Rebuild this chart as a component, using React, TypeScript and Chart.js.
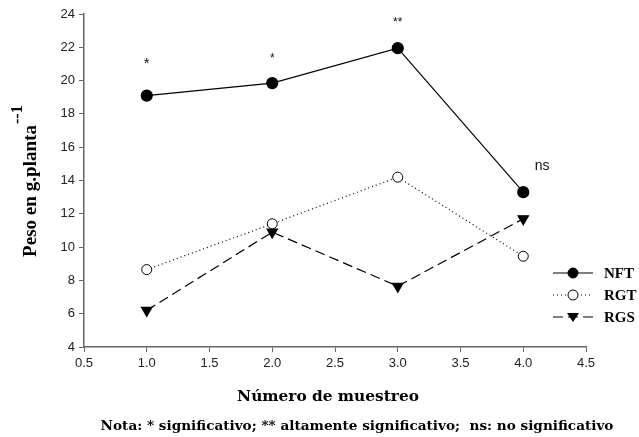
import React, { useEffect, useRef } from "react";
import { Chart, registerables } from "chart.js";

Chart.register(...registerables);

const samples = [1.0, 2.0, 3.0, 4.0];
const nft = [19.1, 19.85, 21.95, 13.3];
const rgt = [8.65, 11.4, 14.2, 9.45];
const rgs = [6.2, 10.9, 7.65, 11.7];

const sigLabels = ["*", "*", "**", "ns"];
const sigX = [1.0, 2.0, 3.0, 4.15];
const sigY = [21.0, 21.3, 23.45, 14.85];

const seriesNames = ["NFT", "RGT", "RGS"];

const SERIF = '"Liberation Serif", "Times New Roman", serif';
const WIDE_SERIF = '"DejaVu Serif", serif';
const SANS = '"Liberation Sans", Arial, sans-serif';

const pts = (ys: number[]) => samples.map((x, i) => ({ x, y: ys[i] }));

function fitFont(ctx: CanvasRenderingContext2D, text: string, family: string, width: number) {
  ctx.font = `bold 20px ${family}`;
  const w = ctx.measureText(text).width;
  const size = (20 * width) / w;
  ctx.font = `bold ${size.toFixed(2)}px ${family}`;
}

const overlay = {
  id: "overlay",
  afterDatasetsDraw(chart: any) {
    const ctx = chart.ctx;
    const xs = chart.scales.x;
    const ys = chart.scales.y;
    ctx.save();
    // significance marks
    ctx.fillStyle = "#111";
    ctx.textAlign = "center";
    ctx.textBaseline = "middle";
    sigLabels.forEach((t, i) => {
      const size = t === "ns" ? 14 : i === 0 ? 15 : 12;
      ctx.font = `${size}px ${SANS}`;
      ctx.fillText(t, xs.getPixelForValue(sigX[i]), ys.getPixelForValue(sigY[i]));
    });

    // legend
    const rows = [273, 295, 317];
    const lx0 = 553, lx1 = 593, lm = 573;
    chart.data.datasets.forEach((ds: any, i: number) => {
      const y = rows[i];
      ctx.strokeStyle = "#000";
      ctx.lineWidth = 1.2;
      ctx.setLineDash(ds.borderDash || []);
      ctx.beginPath();
      ctx.moveTo(lx0, y);
      ctx.lineTo(lx1, y);
      ctx.stroke();
      ctx.setLineDash([]);
      ctx.fillStyle = ds.pointBackgroundColor;
      ctx.beginPath();
      if (i === 2) {
        ctx.moveTo(lm - 6, y - 4);
        ctx.lineTo(lm + 6, y - 4);
        ctx.lineTo(lm, y + 5);
        ctx.closePath();
        ctx.fillStyle = "#000";
        ctx.fill();
      } else {
        ctx.arc(lm, y, 5, 0, Math.PI * 2);
        ctx.fill();
        ctx.lineWidth = 1;
        ctx.stroke();
      }
      ctx.fillStyle = "#000";
      ctx.font = `bold 15px ${SERIF}`;
      ctx.textAlign = "left";
      ctx.textBaseline = "middle";
      ctx.fillText(seriesNames[i], 604, y + 1);
    });

    // y axis title
    ctx.save();
    ctx.translate(31, 191);
    ctx.rotate(-Math.PI / 2);
    const title = "Peso en g.planta";
    fitFont(ctx, title, SERIF, 132);
    ctx.textAlign = "center";
    ctx.textBaseline = "middle";
    ctx.fillStyle = "#000";
    const w = ctx.measureText(title).width;
    ctx.fillText(title, 0, 0);
    ctx.textAlign = "left";
    ctx.font = `bold 16px ${SERIF}`;
    ctx.fillText("--1", w / 2 + 1, -13);
    ctx.restore();

    // x axis title
    const xt = "Número de muestreo";
    fitFont(ctx, xt, WIDE_SERIF, 182);
    ctx.textAlign = "center";
    ctx.textBaseline = "middle";
    ctx.fillStyle = "#000";
    ctx.fillText(xt, 328, 397);

    // note
    const note = "Nota: * significativo; ** altamente significativo;  ns: no significativo";
    fitFont(ctx, note, WIDE_SERIF, 513);
    ctx.fillText(note, 357, 426);
    ctx.restore();
  },
};

export default function App() {
  const ref = useRef<HTMLCanvasElement>(null);
  useEffect(() => {
    document.body.style.margin = "0";
    const chart = new Chart(ref.current!, {
      type: "line",
      data: {
        datasets: [
          {
            label: seriesNames[0],
            data: pts(nft),
            borderColor: "#000",
            borderWidth: 1.2,
            pointStyle: "circle",
            pointRadius: 5.5,
            pointBackgroundColor: "#000",
            pointBorderColor: "#000",
          },
          {
            label: seriesNames[1],
            data: pts(rgt),
            borderColor: "#000",
            borderWidth: 1.2,
            borderDash: [1, 3],
            pointStyle: "circle",
            pointRadius: 5,
            pointBackgroundColor: "#fff",
            pointBorderColor: "#000",
            pointBorderWidth: 1,
          },
          {
            label: seriesNames[2],
            data: pts(rgs),
            borderColor: "#000",
            borderWidth: 1.2,
            borderDash: [10, 5],
            pointStyle: "triangle",
            pointRotation: 180,
            pointRadius: 6,
            pointBackgroundColor: "#000",
            pointBorderColor: "#000",
          },
        ],
      },
      options: {
        responsive: false,
        animation: false,
        layout: { padding: { left: 0, top: 14, right: 53, bottom: 0 } },
        plugins: { legend: { display: false }, tooltip: { enabled: false } },
        scales: {
          x: {
            type: "linear",
            min: 0.5,
            max: 4.5,
            ticks: {
              stepSize: 0.5,
              color: "#222",
              font: { family: SANS, size: 13 },
              padding: 4,
              callback: (v: any) => Number(v).toFixed(1),
            },
            grid: { drawOnChartArea: false, drawTicks: true, tickLength: 5, color: "#666", lineWidth: 1 },
            border: { color: "#666", width: 1.5 },
            afterFit: (s: any) => {
              s.height = 90;
            },
          },
          y: {
            min: 4,
            max: 24,
            ticks: {
              stepSize: 2,
              color: "#222",
              font: { family: SANS, size: 13 },
              padding: 4,
            },
            grid: { drawOnChartArea: false, drawTicks: true, tickLength: 5, color: "#666", lineWidth: 1 },
            border: { color: "#666", width: 1.5 },
            afterFit: (s: any) => {
              s.width = 84;
            },
          },
        },
      },
      plugins: [overlay],
    } as any);
    return () => chart.destroy();
  }, []);
  return (
    <div style={{ position: "fixed", left: 0, top: 0, width: 639, height: 437, background: "#fff" }}>
      <canvas ref={ref} width={639} height={437} />
    </div>
  );
}
